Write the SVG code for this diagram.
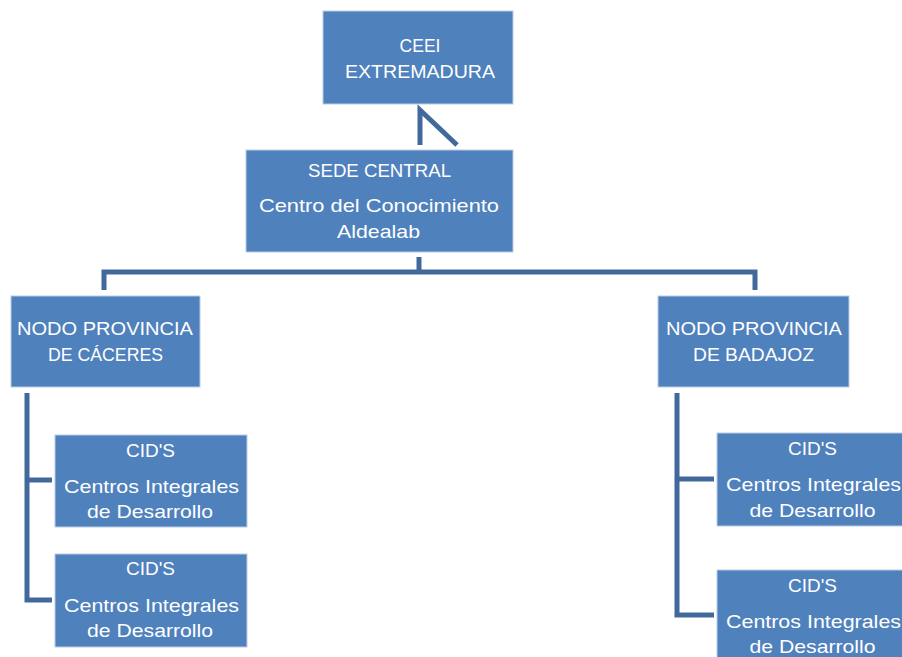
<svg xmlns="http://www.w3.org/2000/svg" width="902" height="657" viewBox="0 0 902 657">
<style>
.box{fill:#4F81BD;stroke:#B9CCE4;stroke-width:1}
.t{fill:#FFFFFF;font-family:"Liberation Sans",Arial,sans-serif;font-size:19px;text-anchor:middle}
.c{fill:none;stroke:#41699B;stroke-width:5;stroke-linejoin:miter}
</style>
<rect width="902" height="657" fill="#FFFFFF"/>
<g id="connectors">
<path class="c" d="M420,145 L420,110 L457,145"/>
<path class="c" d="M419,257 L419,272 M104,290 L104,272 L755,272 L755,290"/>
<path class="c" d="M27,393 L27,600 L52,600 M27,480 L52,480"/>
<path class="c" d="M677,393 L677,615 L714,615 M677,479 L714,479"/>
</g>
<g id="ceei">
<rect class="box" x="323" y="11" width="190" height="93"/>
<text class="t" x="420" y="52" textLength="41" lengthAdjust="spacingAndGlyphs">CEEI</text>
<text class="t" x="420" y="78" textLength="150" lengthAdjust="spacingAndGlyphs">EXTREMADURA</text>
</g>
<g id="sede">
<rect class="box" x="246" y="150" width="267" height="102"/>
<text class="t" x="379.5" y="177" textLength="143" lengthAdjust="spacingAndGlyphs">SEDE CENTRAL</text>
<text class="t" x="379" y="212" textLength="240" lengthAdjust="spacingAndGlyphs">Centro del Conocimiento</text>
<text class="t" x="378.5" y="238" textLength="83" lengthAdjust="spacingAndGlyphs">Aldealab</text>
</g>
<g id="caceres">
<rect class="box" x="11" y="296" width="189" height="91"/>
<text class="t" x="105" y="335" textLength="176" lengthAdjust="spacingAndGlyphs">NODO PROVINCIA</text>
<text class="t" x="105.5" y="361" textLength="115" lengthAdjust="spacingAndGlyphs">DE CÁCERES</text>
</g>
<g id="badajoz">
<rect class="box" x="658" y="296" width="191" height="91"/>
<text class="t" x="754" y="335" textLength="176" lengthAdjust="spacingAndGlyphs">NODO PROVINCIA</text>
<text class="t" x="753.5" y="361" textLength="121" lengthAdjust="spacingAndGlyphs">DE BADAJOZ</text>
</g>
<g id="cid-c1">
<rect class="box" x="55" y="435" width="192" height="92"/>
<text class="t" x="150.5" y="457" textLength="49" lengthAdjust="spacingAndGlyphs">CID'S</text>
<text class="t" x="151.5" y="493" textLength="175" lengthAdjust="spacingAndGlyphs">Centros Integrales</text>
<text class="t" x="150" y="518" textLength="126" lengthAdjust="spacingAndGlyphs">de Desarrollo</text>
</g>
<g id="cid-c2">
<rect class="box" x="55" y="554" width="192" height="93"/>
<text class="t" x="150.5" y="575" textLength="49" lengthAdjust="spacingAndGlyphs">CID'S</text>
<text class="t" x="151.5" y="612" textLength="175" lengthAdjust="spacingAndGlyphs">Centros Integrales</text>
<text class="t" x="150" y="637" textLength="126" lengthAdjust="spacingAndGlyphs">de Desarrollo</text>
</g>
<g id="cid-b1">
<rect class="box" x="717" y="433" width="192" height="93"/>
<text class="t" x="812.5" y="455" textLength="49" lengthAdjust="spacingAndGlyphs">CID'S</text>
<text class="t" x="813.5" y="491" textLength="175" lengthAdjust="spacingAndGlyphs">Centros Integrales</text>
<text class="t" x="812.5" y="517" textLength="126" lengthAdjust="spacingAndGlyphs">de Desarrollo</text>
</g>
<g id="cid-b2">
<rect class="box" x="717" y="570" width="192" height="93"/>
<text class="t" x="812.5" y="592" textLength="49" lengthAdjust="spacingAndGlyphs">CID'S</text>
<text class="t" x="813.5" y="628" textLength="175" lengthAdjust="spacingAndGlyphs">Centros Integrales</text>
<text class="t" x="812.5" y="653" textLength="126" lengthAdjust="spacingAndGlyphs">de Desarrollo</text>
</g>
</svg>
